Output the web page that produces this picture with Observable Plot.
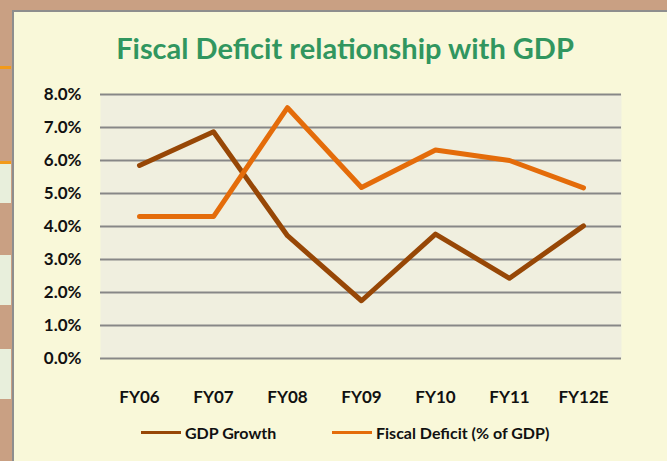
<!DOCTYPE html>
<html>
<head>
<meta charset="utf-8">
<script src="https://cdn.jsdelivr.net/npm/d3@7"></script>
<script src="https://cdn.jsdelivr.net/npm/@observablehq/plot@0.6"></script>
<style>
  html, body { margin: 0; padding: 0; }
  body { width: 667px; height: 461px; background: #c9a083; position: relative; overflow: hidden; font-family: Lato, "Open Sans", sans-serif; }
  .strip { position: absolute; left: 0; width: 11px; }
  .panel { position: absolute; left: 12px; top: 10px; right: 0; bottom: 0; background: #f9f8d9; border-left: 2px solid #8e8e8e; border-top: 2px solid #8e8e8e; }
  .title { position: absolute; left: 0; width: 690px; top: 30px; text-align: center; font-size: 29px; font-weight: 700; color: #31965f; }
  #chart { position: absolute; left: 0; top: 80px; }
  .legend-item { position: absolute; top: 423px; display: flex; align-items: center; font-size: 16px; font-weight: 700; color: #111; }
  .sw { display: inline-block; width: 40px; height: 3px; margin-right: 4px; }
</style>
</head>
<body>
<div class="strip" style="top:162px;height:41px;background:#e8efdc"></div>
<div class="strip" style="top:255px;height:50px;background:#e8efdc"></div>
<div class="strip" style="top:349px;height:50px;background:#e8efdc"></div>
<div class="strip" style="top:66px;height:3px;background:#f29a1a"></div>
<div class="strip" style="top:161px;height:3px;background:#f29a1a"></div>
<div class="panel"></div>
<div class="title">Fiscal Deficit relationship with GDP</div>
<div id="chart"></div>
<div id="legend"></div>
<script>
const categories = ["FY06", "FY07", "FY08", "FY09", "FY10", "FY11", "FY12E"];
const seriesNames = ["GDP Growth", "Fiscal Deficit (% of GDP)"];
const gdpGrowth = [5.85, 6.87, 3.72, 1.75, 3.77, 2.43, 4.02];
const fiscalDeficit = [4.3, 4.3, 7.6, 5.18, 6.32, 6.0, 5.17];
const seriesColors = ["#974706", "#e46c0a"];
const yTicks = [0, 1, 2, 3, 4, 5, 6, 7, 8];

const data = [];
categories.forEach((c, i) => data.push({cat: c, value: gdpGrowth[i], series: seriesNames[0]}));
categories.forEach((c, i) => data.push({cat: c, value: fiscalDeficit[i], series: seriesNames[1]}));

const chart = Plot.plot({
  width: 667,
  height: 338,
  marginLeft: 100,
  marginRight: 46,
  marginTop: 14,
  marginBottom: 60,
  style: {background: "transparent", fontFamily: "Lato, 'Open Sans', sans-serif"},
  x: {type: "point", domain: categories, padding: 0.5, label: null},
  y: {domain: [0, 8], label: null},
  color: {domain: seriesNames, range: seriesColors},
  marks: [
    Plot.frame({fill: "#f0efdf", stroke: "none"}),
    Plot.ruleY(yTicks, {stroke: "#878787", strokeWidth: 2}),
    Plot.axisY({ticks: yTicks, tickSize: 0, tickPadding: 19, tickFormat: d => d.toFixed(1) + "%", fontSize: 17, fontWeight: 700, fill: "#111", label: null}),
    Plot.axisX({tickSize: 0, tickPadding: 32, fontSize: 17, fontWeight: 700, fill: "#111", label: null}),
    Plot.line(data, {x: "cat", y: "value", z: "series", stroke: "series", strokeWidth: 5, strokeLinecap: "round", strokeLinejoin: "round"})
  ]
});
document.getElementById("chart").appendChild(chart);

const legend = document.getElementById("legend");
const lefts = [141, 332];
seriesNames.forEach((name, i) => {
  const item = document.createElement("div");
  item.className = "legend-item";
  item.style.left = lefts[i] + "px";
  const sw = document.createElement("span");
  sw.className = "sw";
  sw.style.background = seriesColors[i];
  const t = document.createElement("span");
  t.textContent = name;
  item.appendChild(sw);
  item.appendChild(t);
  legend.appendChild(item);
});
</script>
</body>
</html>
